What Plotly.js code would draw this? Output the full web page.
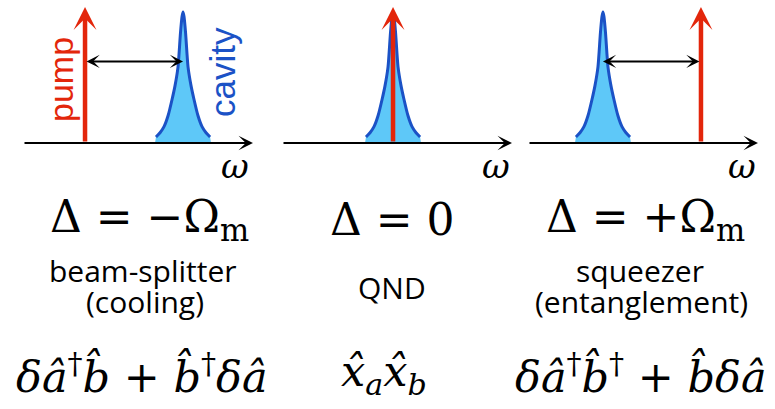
<!DOCTYPE html>
<html><head><meta charset="utf-8">
<script src="https://cdn.plot.ly/plotly-3.0.1.min.js"></script>
<style>html,body{margin:0;padding:0;background:#fff}</style>
</head><body><div id="chart" style="width:775px;height:409px"></div>
<script>
// ---- data ----
const detuning = [-1, 0, 1];            // pump detuning Δ in units of Ω_m (cavity at ω = 0)
const pumpLevel = [1, 1, 1];            // pump arrow height (normalised)
const arrowLevel = 0.6;                 // height of the Δ double arrow
// cavity lineshape (offset from resonance in Ω_m, height)
const cavityOffset = [-0.276, -0.235, -0.194, -0.153, -0.112, -0.082, -0.051, -0.026, -0.010, 0, 0.010, 0.026, 0.051, 0.082, 0.112, 0.153, 0.194, 0.235, 0.276];
const cavityLevel  = [0.044, 0.075, 0.12, 0.2, 0.32, 0.42, 0.56, 0.81, 0.93, 0.963, 0.93, 0.81, 0.56, 0.42, 0.32, 0.2, 0.12, 0.075, 0.044];
const cavityFootOffset = 0.286;         // where the filled area meets the axis
const deltaLabels = ['\u0394 = \u2212\u03a9<sub>m</sub>', '\u0394 = 0', '\u0394 = +\u03a9<sub>m</sub>'];
const regimeTop = ['beam-splitter', 'QND', 'squeezer'];
const regimeBottom = ['(cooling)', '', '(entanglement)'];
const hamiltonians = [
  '<i>\u03b4\u00e2</i><sup>\u2020</sup><i>b\u0302</i> + <i>b\u0302</i><sup>\u2020</sup><i>\u03b4\u00e2</i>',
  '<i>x\u0302</i><sub><i>a</i></sub><i>x\u0302</i><sub><i>b</i></sub>',
  '<i>\u03b4\u00e2</i><sup>\u2020</sup><i>b\u0302</i><sup>\u2020</sup> + <i>b\u0302\u03b4\u00e2</i>'
];
const axisLabel = '\u03c9';
const pumpLabel = 'pump';
const cavityLabel = 'cavity';

// ---- layout helpers ----
const W = 775, H = 409;
const px = v => v / W, py = v => 1 - v / H;
const xRanges = [[-1.633, 0.714], [-1.133, 1.214], [-0.765, 1.582]];
const xDomPx = [[23, 253], [282, 512], [528, 758]];
const RED = '#e3260b', BLUE = '#1b52c6', LIGHT = '#5ec8f8';
const SERIF = 'DejaVu Serif, serif';
const SANS = 'Open Sans, sans-serif';

const traces = [];
const annotations = [];
const axNames = ['x', 'x2', 'x3'];

function label(xp, yp, text, font, extra) {
  annotations.push(Object.assign({x: px(xp), y: py(yp), xref: 'paper', yref: 'paper', text: text,
    showarrow: false, xanchor: 'center', yanchor: 'middle', font: font}, extra || {}));
}

detuning.forEach((d, i) => {
  const xa = axNames[i];
  const fx = [-cavityFootOffset].concat(cavityOffset, [cavityFootOffset]);
  const fy = [0].concat(cavityLevel, [0]);
  traces.push({x: fx, y: fy, xaxis: xa, yaxis: 'y', type: 'scatter', mode: 'lines',
    fill: 'toself', fillcolor: LIGHT, line: {width: 0, color: LIGHT}, hoverinfo: 'skip'});
  traces.push({x: cavityOffset, y: cavityLevel, xaxis: xa, yaxis: 'y', type: 'scatter', mode: 'lines',
    line: {width: 3, color: BLUE, shape: 'spline', smoothing: 0.6}, hoverinfo: 'skip'});
  annotations.push({x: xRanges[i][1], y: 0, ax: xRanges[i][0], ay: 0, xref: xa, yref: 'y', axref: xa, ayref: 'y',
    text: '', showarrow: true, arrowhead: 3, arrowsize: 1.1, arrowwidth: 2.2, arrowcolor: '#000', standoff: 0, startstandoff: 0});
  annotations.push({x: d, y: pumpLevel[i], ax: d, ay: 0, xref: xa, yref: 'y', axref: xa, ayref: 'y',
    text: '', showarrow: true, arrowhead: 3, arrowsize: 0.85, arrowwidth: 4.5, arrowcolor: RED, standoff: 0, startstandoff: 0});
  if (d !== 0) {
    annotations.push({x: 0, y: arrowLevel, ax: d, ay: arrowLevel, xref: xa, yref: 'y', axref: xa, ayref: 'y',
      text: '', showarrow: true, arrowhead: 3, startarrowhead: 3, arrowside: 'end+start', arrowsize: 1.1, startarrowsize: 1.1,
      arrowwidth: 2, arrowcolor: '#000', standoff: 0, startstandoff: 0});
  }
});

[235, 496, 742].forEach(v => label(v, 166, '<i>' + axisLabel + '</i>', {family: SERIF, size: 34, color: '#000'}));

label(61, 80, pumpLabel, {family: 'Liberation Sans, Arial, sans-serif', size: 34, color: RED}, {textangle: -90});
label(222, 72, cavityLabel, {family: 'Liberation Sans, Arial, sans-serif', size: 35, color: BLUE}, {textangle: -90});

const deltaPx = [149, 392, 645];
deltaLabels.forEach((t, i) => label(deltaPx[i], 219, t, {family: SERIF, size: 44, color: '#000'}));

const topPx = [[143, 270], [392, 287], [640, 270]];
regimeTop.forEach((t, i) => label(topPx[i][0], topPx[i][1], t, {family: SANS, size: 30, color: '#000'}));
const botPx = [[145, 301], [0, 0], [641, 301]];
regimeBottom.forEach((t, i) => { if (t) label(botPx[i][0], botPx[i][1], t, {family: SANS, size: 30, color: '#000'}); });

const hamPx = [142, 384, 641];
hamiltonians.forEach((t, i) => label(hamPx[i], 374, t, {family: SERIF, size: 43, color: '#000'}));

const hidden = {visible: false, fixedrange: true};
const layout = {
  width: W, height: H, margin: {l: 0, r: 0, t: 0, b: 0},
  paper_bgcolor: '#fff', plot_bgcolor: 'rgba(0,0,0,0)', showlegend: false,
  xaxis:  Object.assign({domain: [px(xDomPx[0][0]), px(xDomPx[0][1])], range: xRanges[0], anchor: 'y'}, hidden),
  xaxis2: Object.assign({domain: [px(xDomPx[1][0]), px(xDomPx[1][1])], range: xRanges[1], anchor: 'y'}, hidden),
  xaxis3: Object.assign({domain: [px(xDomPx[2][0]), px(xDomPx[2][1])], range: xRanges[2], anchor: 'y'}, hidden),
  yaxis:  Object.assign({domain: [py(156.6), py(0.2)], range: [-0.1, 1.05]}, hidden),
  annotations: annotations
};
Plotly.newPlot('chart', traces, layout, {staticPlot: true, displayModeBar: false});
</script></body></html>
